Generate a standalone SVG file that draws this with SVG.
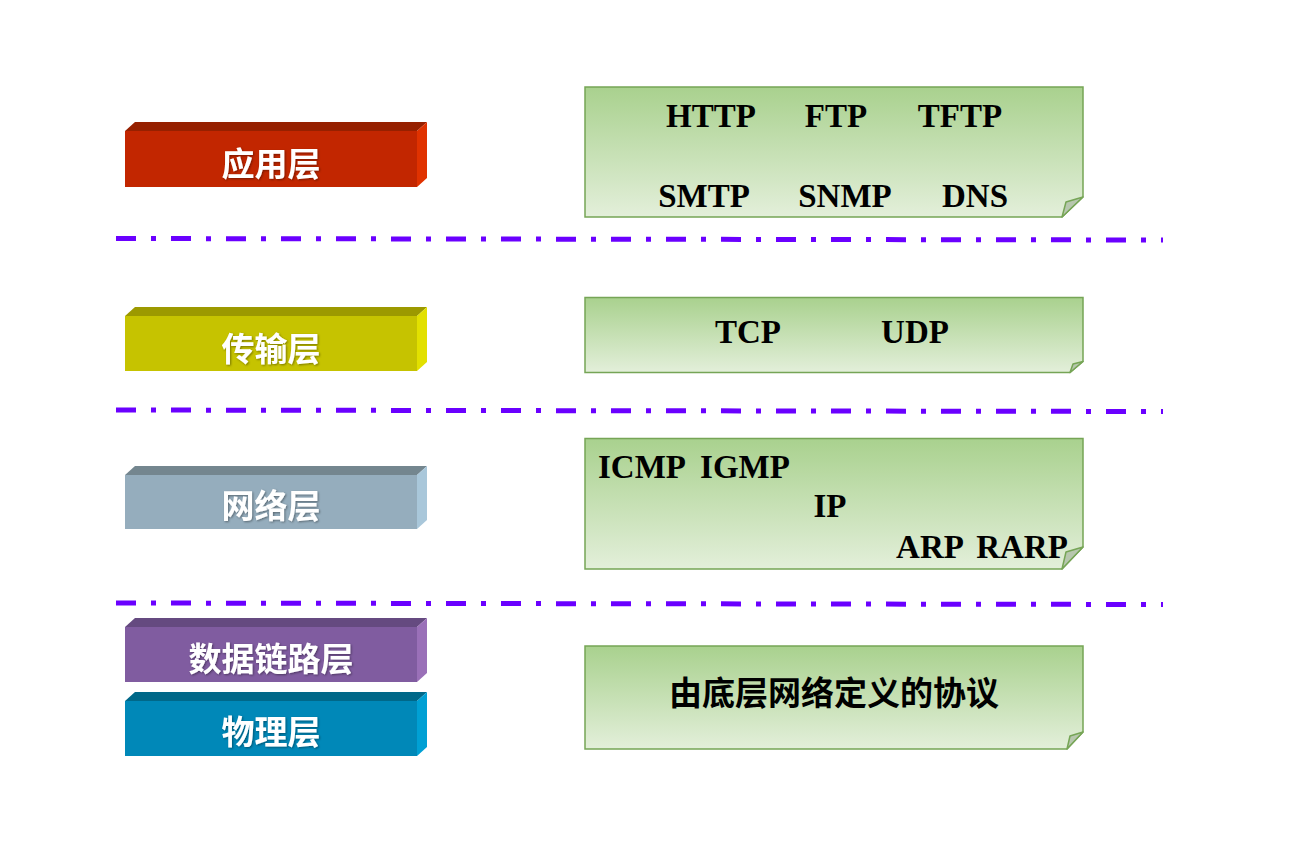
<svg xmlns="http://www.w3.org/2000/svg" width="1301" height="842" viewBox="0 0 1301 842">
<defs>
<linearGradient id="g" x1="0" y1="0" x2="0" y2="1">
<stop offset="0" stop-color="#A9D18E"/>
<stop offset="1" stop-color="#E3EFDA"/>
</linearGradient>
<filter id="sh" x="-10%" y="-10%" width="120%" height="130%">
<feDropShadow dx="1" dy="1" stdDeviation="0.8" flood-color="#000" flood-opacity="0.4"/>
</filter>
<style>
.lbl{font-family:"Noto Sans CJK SC","Noto Sans CJK TC",sans-serif;font-weight:700;font-size:33px;fill:#fff;text-anchor:middle}
.note{fill:url(#g);stroke:#76A556;stroke-width:1.5}
.fold{fill:#B7C7AE;stroke:#76A556;stroke-width:1.5;stroke-linejoin:round}
.pt{font-family:"Liberation Serif","Times New Roman",serif;font-weight:700;font-size:33px;fill:#000;text-anchor:middle}
.cn{font-family:"Noto Sans CJK SC","Noto Sans CJK TC",sans-serif;font-weight:700;font-size:33px;fill:#000;text-anchor:middle}
.sep{stroke:#6A00FF;stroke-width:5;stroke-dasharray:20 15 5 15;fill:none}
</style>
</defs>
<rect width="1301" height="842" fill="#fff"/>

<g id="layer-app">
<polygon points="125,131 135,122 427,122 417,131" fill="#962000"/>
<polygon points="417,131 427,122 427,178 417,187" fill="#E03200"/>
<rect x="125" y="131" width="292" height="56" fill="#C22600"/>
<text class="lbl" x="271" y="176" filter="url(#sh)">应用层</text>
</g>
<g id="layer-transport">
<polygon points="125,316 135,307 427,307 417,316" fill="#9C9900"/>
<polygon points="417,316 427,307 427,362 417,371" fill="#E2E000"/>
<rect x="125" y="316" width="292" height="55" fill="#C6C300"/>
<text class="lbl" x="271" y="361" filter="url(#sh)">传输层</text>
</g>
<g id="layer-network">
<polygon points="125,475 135,466 427,466 417,475" fill="#74868F"/>
<polygon points="417,475 427,466 427,520 417,529" fill="#A9C7DA"/>
<rect x="125" y="475" width="292" height="54" fill="#95ADBD"/>
<text class="lbl" x="271" y="518" filter="url(#sh)">网络层</text>
</g>
<g id="layer-datalink">
<polygon points="125,627 135,618 427,618 417,627" fill="#654A80"/>
<polygon points="417,627 427,618 427,673 417,682" fill="#9A70B8"/>
<rect x="125" y="627" width="292" height="55" fill="#805CA0"/>
<text class="lbl" x="271" y="671" filter="url(#sh)">数据链路层</text>
</g>
<g id="layer-physical">
<polygon points="125,701 135,692 427,692 417,701" fill="#006889"/>
<polygon points="417,701 427,692 427,747 417,756" fill="#00A0D4"/>
<rect x="125" y="701" width="292" height="55" fill="#0088B8"/>
<text class="lbl" x="271" y="744" filter="url(#sh)">物理层</text>
</g>

<g id="separators">
<line class="sep" x1="116" y1="238.5" x2="1163" y2="240"/>
<line class="sep" x1="116" y1="410" x2="1163" y2="411.5"/>
<line class="sep" x1="116" y1="603" x2="1163" y2="604.5"/>
</g>

<g id="proto-app">
<polygon class="note" points="585,87 1083,87 1083,197 1062,217 585,217"/>
<polygon class="fold" points="1083,197 1062,217 1066,202"/>
<text class="pt" x="711" y="127">HTTP</text>
<text class="pt" x="836" y="127">FTP</text>
<text class="pt" x="960" y="127">TFTP</text>
<text class="pt" x="704" y="207">SMTP</text>
<text class="pt" x="845" y="207">SNMP</text>
<text class="pt" x="975" y="207">DNS</text>
</g>
<g id="proto-transport">
<polygon class="note" points="585,297.5 1083,297.5 1083,361.5 1070,372.5 585,372.5"/>
<polygon class="fold" points="1083,361.5 1070,372.5 1073,364"/>
<text class="pt" x="748" y="342.5">TCP</text>
<text class="pt" x="915" y="342.5">UDP</text>
</g>
<g id="proto-network">
<polygon class="note" points="585,438.5 1083,438.5 1083,547 1062,569 585,569"/>
<polygon class="fold" points="1083,547 1062,569 1066,552"/>
<text class="pt" x="642" y="478">ICMP</text>
<text class="pt" x="745" y="478">IGMP</text>
<text class="pt" x="830" y="517">IP</text>
<text class="pt" x="930" y="558">ARP</text>
<text class="pt" x="1022" y="558">RARP</text>
</g>
<g id="proto-link">
<polygon class="note" points="585,646 1083,646 1083,732 1067,749 585,749"/>
<polygon class="fold" points="1083,732 1067,749 1070,736"/>
<text class="cn" x="834" y="705">由底层网络定义的协议</text>
</g>
</svg>
